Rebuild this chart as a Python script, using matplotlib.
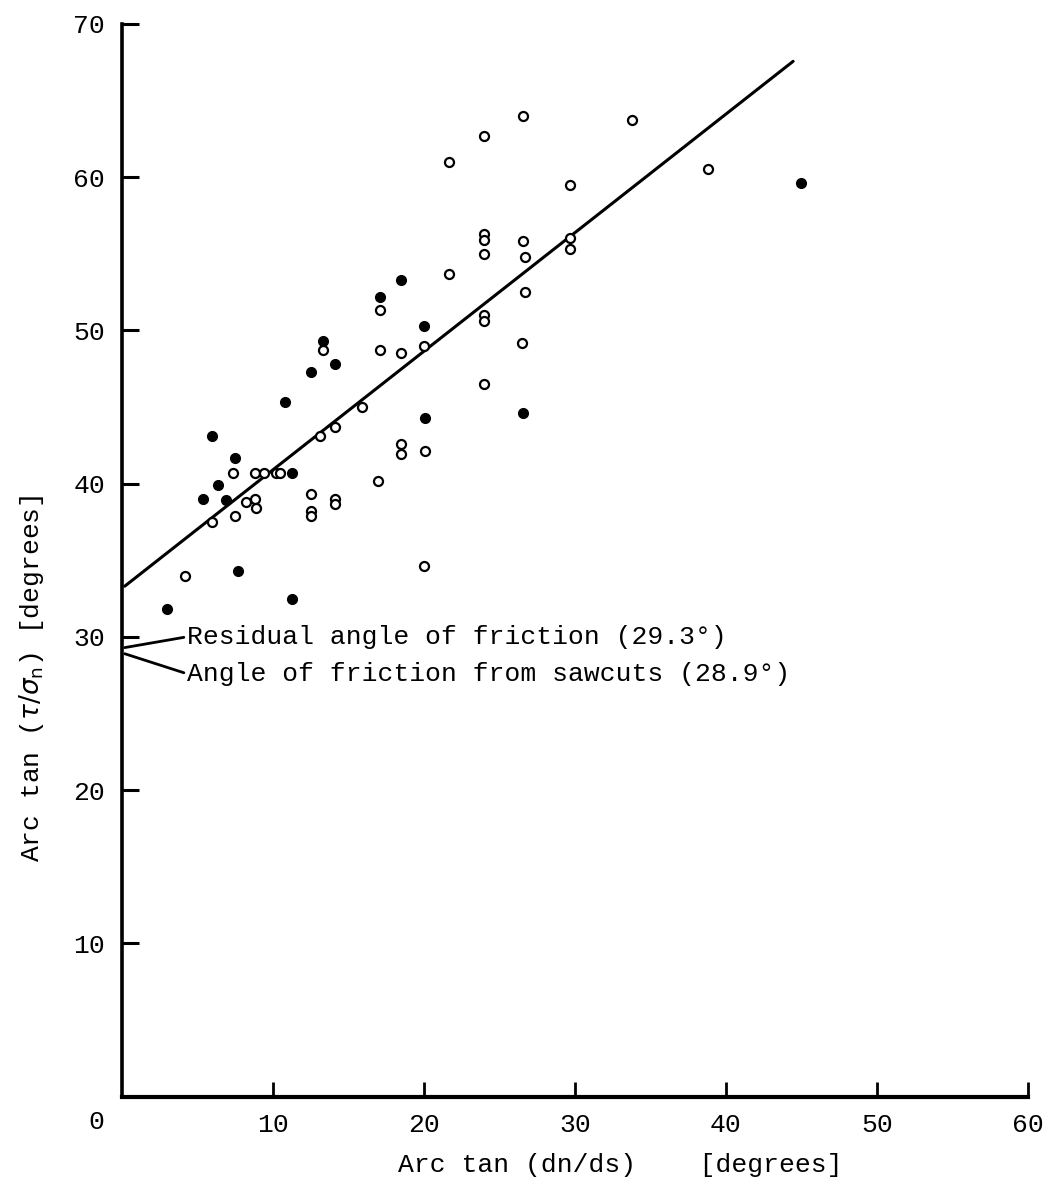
"""
Arc tan (tau/sigma_n) against arc tan (dn/ds) for the sheared joints,
with the fitted trend line and the two friction angles marked on the
y axis.
"""

import matplotlib
matplotlib.use('Agg')
import matplotlib.pyplot as plt

# open circles
open_x = [17.1, 13.3, 17.1, 18.5, 20.0, 15.9, 14.1, 13.1, 18.5, 18.5,
          20.1, 7.4, 8.8, 9.4, 10.2, 10.5, 8.2, 8.8, 8.9, 12.5,
          12.5, 12.5, 14.1, 14.1, 17.0, 6.0, 7.5, 20.0, 4.2,
          26.6, 24.0, 21.7, 33.8, 38.8, 29.7, 24.0, 24.0, 24.0, 26.6,
          26.7, 29.7, 29.7, 21.7, 26.7, 24.0, 24.0, 26.5, 24.0]
open_y = [51.3, 48.7, 48.7, 48.5, 49.0, 45.0, 43.7, 43.1, 42.6, 41.9,
          42.1, 40.7, 40.7, 40.7, 40.7, 40.7, 38.8, 39.0, 38.4, 39.3,
          38.2, 37.9, 39.0, 38.7, 40.2, 37.5, 37.9, 34.6, 34.0,
          64.0, 62.7, 61.0, 63.7, 60.5, 59.5, 56.3, 55.9, 55.0, 55.8,
          54.8, 56.0, 55.3, 53.7, 52.5, 51.0, 50.6, 49.2, 46.5]

# filled circles
solid_x = [13.3, 20.0, 12.5, 14.1, 10.8, 20.1, 6.0, 7.5, 11.3, 6.4,
           5.4, 6.9, 7.7, 11.3, 3.0, 45.0, 18.5, 17.1, 26.6]
solid_y = [49.3, 50.3, 47.3, 47.8, 45.3, 44.3, 43.1, 41.7, 40.7, 39.9,
           39.0, 38.9, 34.3, 32.5, 31.8, 59.6, 53.3, 52.2, 44.6]

# fitted line: y = intercept + slope * x, drawn over [0, x_end]
fit_intercept = 33.15
fit_slope = 0.774
fit_x = [0.2, 44.45]

x_ticks = [10, 20, 30, 40, 50, 60]
y_ticks = [10, 20, 30, 40, 50, 60, 70]

residual_angle = 29.3
sawcut_angle = 28.9

FONT = ['Liberation Mono', 'DejaVu Sans Mono']


def graph_view():
    fig = plt.figure(figsize=(10.49, 11.92), dpi=100)
    ax = fig.add_axes([0.116, 0.080, 0.864, 0.900])

    fit_y = [fit_intercept + fit_slope * x for x in fit_x]
    ax.plot(fit_x, fit_y, color='black', lw=2.2, zorder=2,
            solid_capstyle='round')

    ax.plot(open_x, open_y, 'o', ms=6.5, mfc='white', mec='black',
            mew=1.6, zorder=3)
    ax.plot(solid_x, solid_y, 'o', ms=7, mfc='black', mec='black',
            zorder=3)

    ax.set_xlim(0, 60)
    ax.set_ylim(0, 70)

    for side in ['top', 'right']:
        ax.spines[side].set_visible(False)
    ax.spines['left'].set_linewidth(2.6)
    ax.spines['bottom'].set_linewidth(3.0)

    ax.set_xticks(x_ticks)
    ax.set_xticklabels([str(t) for t in x_ticks], family=FONT, fontsize=19)
    ax.set_yticks(y_ticks)
    ax.set_yticklabels([str(t) for t in y_ticks], family=FONT, fontsize=19)
    ax.tick_params(axis='x', direction='in', length=11, width=2, pad=12)
    ax.tick_params(axis='y', direction='in', length=12, width=2.2, pad=12)
    # the "0" sits left of the corner, not under it
    ax.text(-1.65, -1.68, '0', family=FONT, fontsize=19,
            ha='center', va='center', clip_on=False)

    ax.set_xlabel('Arc tan (dn/ds)    [degrees]', family=FONT, fontsize=19,
                  va='center')
    ax.xaxis.set_label_coords(0.5497, -0.064)
    ax.set_ylabel(r'Arc tan ($\tau/\sigma_{\rm n}$) [degrees]', family=FONT,
                  fontsize=19, va='center')
    ax.yaxis.set_label_coords(-0.100, 0.39)

    # leader lines run from the left middle of each text to the axis
    ax.annotate('Residual angle of friction (29.3°)',
                xy=(0.2, residual_angle), xytext=(4.3, 30.0),
                family=FONT, fontsize=19, va='center', ha='left',
                arrowprops=dict(arrowstyle='-', lw=2, color='black',
                                relpos=(0, 0.5), shrinkA=0, shrinkB=0))
    ax.annotate('Angle of friction from sawcuts (28.9°)',
                xy=(0.2, sawcut_angle), xytext=(4.3, 27.6),
                family=FONT, fontsize=19, va='center', ha='left',
                arrowprops=dict(arrowstyle='-', lw=2, color='black',
                                relpos=(0, 0.5), shrinkA=0, shrinkB=0))

    fig.savefig('out.png', dpi=100)


if __name__ == '__main__':
    graph_view()
